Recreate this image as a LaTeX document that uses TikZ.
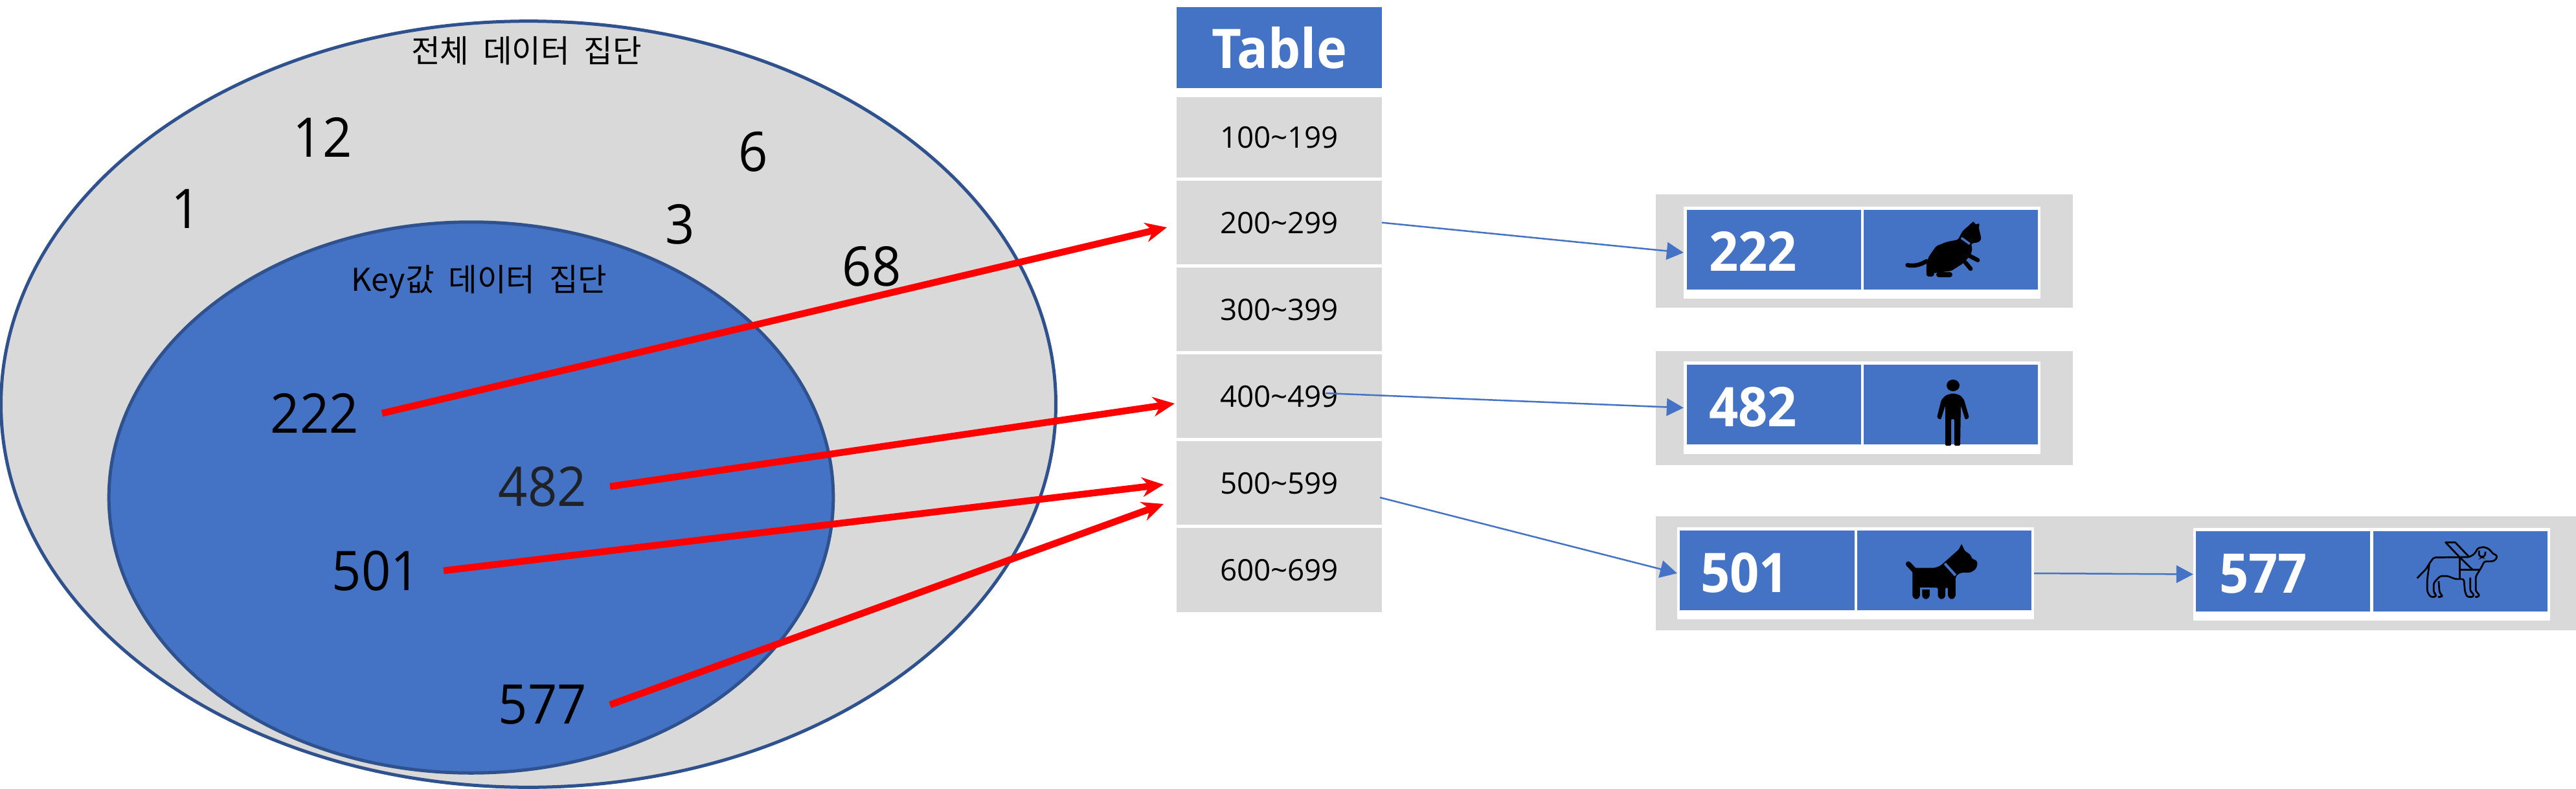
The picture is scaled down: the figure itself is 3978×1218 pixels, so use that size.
\documentclass[tikz,border=0pt]{standalone}
\usepackage{fontspec}
\setmainfont{Open Sans}
\newfontfamily\krfont[WordSpace=2]{Noto Sans CJK KR}
\newfontfamily\numfont[FakeStretch=.94]{Open Sans}
\usetikzlibrary{%
  arrows.meta,%
  positioning,%
  shapes.geometric}
\definecolor{cellblue}{HTML}{4472C4}
\definecolor{cellgrey}{HTML}{D9D9D9}
\definecolor{rimblue}{HTML}{2F528F}
\definecolor{softink}{HTML}{1F2328}

\begin{document}
\begin{tikzpicture}
  [x=0.01cm,y=-0.01cm,node distance=0.05cm,outer sep=0pt,
   full set/.style={ellipse,draw=rimblue,line width=0.05cm,fill=cellgrey,inner sep=0pt},
   key set/.style={full set,fill=cellblue},
   set name/.style={font=\krfont\fontsize{13.8}{16}\selectfont,inner sep=0pt},
   loose num/.style={font=\numfont\fontsize{24}{28}\selectfont,inner sep=0pt},
   key num/.style={loose num,inner xsep=0.36cm},
   row cell/.style={rectangle,fill=cellgrey,minimum width=3.17cm,minimum height=1.29cm,
     inner sep=0pt,font=\fontsize{13}{16}\selectfont},
   head cell/.style={row cell,fill=cellblue,text=white,minimum height=1.25cm,
     font=\numfont\bfseries\fontsize{24}{28}\selectfont},
   bucket/.style={rectangle,fill=cellgrey,inner sep=0pt},
   slot/.style={rectangle,fill=white,inner sep=0pt,minimum width=5.51cm,minimum height=1.42cm},
   cell/.style={rectangle,fill=cellblue,inner sep=0pt,minimum width=2.69cm,minimum height=1.23cm},
   cell num/.style={font=\numfont\bfseries\fontsize{24}{28}\selectfont,text=white,inner sep=0pt},
   hash/.style={-{Stealth[length=0.33cm,width=0.3cm]},red,line width=0.105cm},
   link/.style={-{Triangle[length=0.26cm,width=0.27cm]},cellblue,line width=0.025cm},
   icon/.style={x=0.00333cm,y=-0.00333cm}]

  \useasboundingbox (0,0) rectangle (3978,1218);

  % Sets
  \node [full set,minimum width=16.28cm,minimum height=11.82cm] (allset) at (816,624) {};
  \node [key set,minimum width=11.18cm,minimum height=8.5cm]    (keyset) at (727.5,768) {};
  \node [set name] (allname) at (813,78)  {전체 데이터 집단};
  \node [set name] (keyname) at (740,435) {Key값 데이터 집단};

  \node [loose num] (n1)  at (287,322)  {1};
  \node [loose num] (n12) at (498,212)  {12};
  \node [loose num] (n6)  at (1163,234) {6};
  \node [loose num] (n3)  at (1050,346) {3};
  \node [loose num] (n68) at (1346,411) {68};

  \node [key num] (n222) at (486,638)  {222};
  \node [key num,text=softink] (n482) at (838,751)  {482};
  \node [key num] (n501) at (581,881)  {501};
  \node [key num] (n577) at (838,1088) {577};

  % Table
  \node [head cell] (head) at (1975.5,73.5) {Table};
  \node [row cell,minimum height=1.24cm] (r100) [below=0.14cm of head] {100\char"007E 199};
  \node [row cell] (r200) [below=of r100] {200\char"007E 299};
  \node [row cell] (r300) [below=of r200] {300\char"007E 399};
  \node [row cell] (r400) [below=of r300] {400\char"007E 499};
  \node [row cell] (r500) [below=of r400] {500\char"007E 599};
  \node [row cell] (r600) [below=of r500] {600\char"007E 699};

  % Chains
  \node [bucket,minimum width=6.44cm,minimum height=1.75cm] (b200) at (2879,387.5) {};
  \node [bucket,minimum width=6.44cm,minimum height=1.76cm] (b400) at (2879,630)   {};
  \node [bucket,minimum width=14.21cm,minimum height=1.76cm] (b500) at (3267.5,885) {};

  \node [slot] (s222) at (2875.5,390) {};
  \node [slot] (s482) at (2875.5,629.5) {};
  \node [slot] (s501) at (2865.5,885) {};
  \node [slot] (s577) at (3662.5,886.5) {};

  \node [cell] (k222) at (2739.5,385.5) {};
  \node [cell] (v222) at (3012.5,385.5) {};
  \node [cell] (k482) at (2739.5,624.5) {};
  \node [cell] (v482) at (3012.5,624.5) {};
  \node [cell] (k501) at (2729,880.5)   {};
  \node [cell] (v501) at (3002.5,880.5) {};
  \node [cell] (k577) at (3525.5,882)   {};
  \node [cell] (v577) at (3799.5,882)   {};

  \node [cell num] (t222) at (2707,388) {222};
  \node [cell num] (t482) at (2707,628) {482};
  \node [cell num] (t501) at (2694,884) {501};
  \node [cell num] (t577) at (3495,886) {577};

  % Cat
  \begin{scope}[shift={(2900,340)},icon]
    \fill [rounded corners=0.03cm] (445,3) -- (452,22) -- (472,12) -- (468,35) -- (480,88)
      -- (468,102) -- (432,108) -- (438,135) -- (428,165) -- (395,200) -- (340,235)
      -- (225,250) -- (225,205) -- (235,170) -- (270,120) -- (320,100) -- (372,90)
      -- (392,50) -- (418,28) -- cycle;
    \draw [line width=0.065cm,line cap=round] (137,208) .. controls (170,215) and (200,205) .. (225,190);
    \draw [line width=0.065cm,line cap=round] (425,165) -- (463,185);
    \draw [line width=0.065cm,line cap=round] (405,195) -- (430,225);
    \draw [line width=0.085cm,line cap=round] (237,250) -- (248,250);
    \draw [line width=0.085cm,line cap=round] (283,252) -- (333,252);
    \draw [cellblue,line width=0.035cm] (387,82) -- (426,110);
  \end{scope}

  % Person
  \fill [rounded corners=0.02cm] (3005,610) -- (3016,607) -- (3027,610) -- (3033,617)
    -- (3041,645) -- (3035,648) -- (3028,626) -- (3027,688) -- (3018,688) -- (3018,647)
    -- (3013,647) -- (3013,688) -- (3004,688) -- (3004,626) -- (2997,648) -- (2991,645)
    -- (2998,617) -- cycle;
  \fill (3016,595) ellipse [x radius=10,y radius=9];

  % Dog
  \begin{scope}[shift={(2900,820)},icon]
    \fill [rounded corners=0.02cm] (160,170) -- (265,170) -- (290,160) -- (375,85) -- (388,58)
      -- (402,90) -- (430,110) -- (438,130) -- (455,133) -- (463,150) -- (455,175) -- (430,192)
      -- (390,192) -- (370,200) -- (360,215) -- (360,305) -- (342,318) -- (325,305) -- (325,262)
      -- (313,262) -- (313,305) -- (295,318) -- (278,305) -- (278,262) -- (195,262) -- (195,305)
      -- (178,318) -- (160,305) -- cycle;
    \fill [rounded corners=0.02cm] (205,262) -- (240,262) -- (240,305) -- (222,318) -- (205,305) -- cycle;
    \fill [cellblue] (195,262) rectangle (240,270);
    \draw [line width=0.08cm,line cap=round] (141,152) -- (172,185);
    \draw [cellblue,line width=0.04cm] (310,150) -- (360,205);
  \end{scope}

  % Guide dog
  \begin{scope}[shift={(3690,820)},icon]
    \draw [line width=0.027cm,line join=round,rounded corners=0.03cm]
      (128,218) -- (170,175) -- (185,150) -- (205,122) -- (370,120) -- (395,105) -- (410,78)
      -- (440,73) -- (465,85) -- (480,105) -- (500,113) -- (495,130) -- (480,140) -- (440,140)
      -- (425,170) -- (400,210) -- (400,280) -- (415,290) -- (415,305) -- (398,305);
    \draw [line width=0.027cm,line join=round,rounded corners=0.03cm]
      (375,215) -- (375,280) -- (390,290) -- (390,305) -- (360,305) -- (350,280) -- (345,222)
      -- (305,222) -- (270,208) -- (235,208) -- (205,240) -- (205,285) -- (215,292) -- (215,305)
      -- (190,305) -- (175,280) -- (175,225) -- (185,150);
    \draw [line width=0.027cm,line join=round,rounded corners=0.03cm]
      (228,232) -- (232,285) -- (243,295) -- (243,305) -- (225,305);
    \draw [line width=0.027cm,line join=round] (368,118) -- (305,52) -- (260,52) -- (325,120) -- (385,178);
    \draw [line width=0.027cm] (325,120) -- (325,222);
    \draw [line width=0.027cm] (325,178) -- (420,178);
    \draw [line width=0.027cm,rounded corners=0.03cm] (415,90) -- (415,115) -- (430,120) -- (443,115) -- (445,95);
  \end{scope}

  % Arrows
  \coordinate (tip200) at (1802,351);
  \coordinate (tip400) at (1814,623);
  \coordinate (tip501) at (1797,748);
  \coordinate (tip577) at (1797,778);
  \coordinate (tail400) at (2047,607);
  \coordinate (tail500) at (2131,768);

  \draw [hash] (n222.east) -- (tip200);
  \draw [hash] (n482.east) -- (tip400);
  \draw [hash] (n501.east) -- (tip501);
  \draw [hash] (n577.east) -- (tip577);

  \draw [link] (r200.east) -- (s222.west);
  \draw [link] (tail400)   -- (s482.west);
  \draw [link] (tail500)   -- (s501.west);
  \draw [link] (s501.east) -- (s577.west);
\end{tikzpicture}
\end{document}
